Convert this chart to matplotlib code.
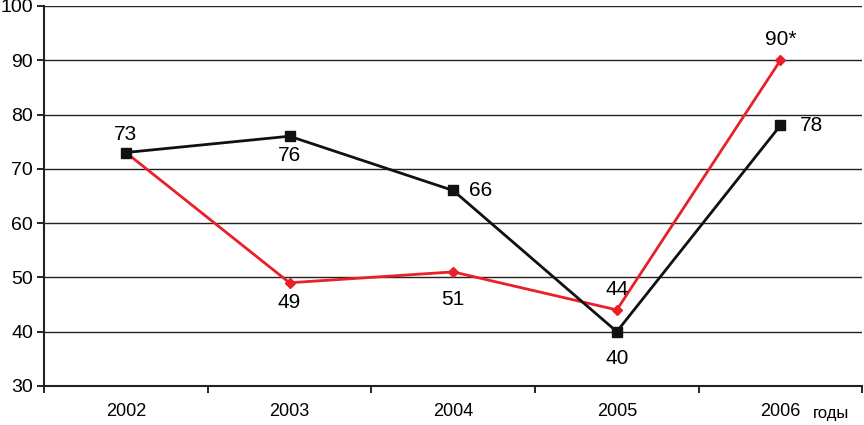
import matplotlib.pyplot as plt
import numpy as np

plt.rcParams['font.family'] = ['Liberation Sans', 'DejaVu Sans']

# Data
years = ['2002', '2003', '2004', '2005', '2006']
black_vals = [73, 76, 66, 40, 78]
red_vals = [73, 49, 51, 44, 90]
black_labels = ['73', '76', '66', '40', '78']
red_labels = ['', '49', '51', '44', '90*']

x = np.arange(len(years))

fig = plt.figure(figsize=(8.64, 4.25), dpi=100)
ax = fig.add_axes([0.051, 0.092, 0.947, 0.894])

ax.plot(x, red_vals, color='#e8202a', lw=2, marker='D', ms=5, zorder=3)
ax.plot(x, black_vals, color='#111111', lw=2, marker='s', ms=7, zorder=4)

# Data labels: (dx, dy) offsets in points
black_off = [(0, 13), (0, -14), (20, 0), (0, -19), (22, 0)]
red_off = [(0, 0), (0, -14), (0, -20), (0, 15), (0, 15)]
for i in range(len(years)):
    dx, dy = black_off[i]
    ax.annotate(black_labels[i], (x[i], black_vals[i]), xytext=(dx, dy),
                textcoords='offset points', ha='center', va='center', fontsize=15)
    if red_labels[i]:
        dx, dy = red_off[i]
        ax.annotate(red_labels[i], (x[i], red_vals[i]), xytext=(dx, dy),
                    textcoords='offset points', ha='center', va='center', fontsize=15)

ax.set_xlim(-0.5, 4.5)
ax.set_ylim(30, 100)
ax.set_yticks(range(30, 101, 10))
ax.yaxis.grid(True, color='#222222', lw=1.0)
ax.set_axisbelow(True)

ax.set_xticks(np.arange(-0.5, 5, 1))
ax.set_xticklabels([])
ax.set_xticks(x, minor=True)
ax.set_xticklabels(years, minor=True)
ax.tick_params(axis='x', which='minor', length=0, pad=12, labelsize=13)
ax.tick_params(axis='x', which='major', length=5, width=1.2, direction='out')
ax.tick_params(axis='y', length=5, width=1.2, labelsize=14, pad=3)

for s in ['top', 'right']:
    ax.spines[s].set_visible(False)
for s in ['left', 'bottom']:
    ax.spines[s].set_linewidth(1.5)
    ax.spines[s].set_color('#222222')

ax.text(4.31, 25.0, 'годы', fontsize=12, ha='center', va='center')

fig.savefig('out.png', dpi=100)
